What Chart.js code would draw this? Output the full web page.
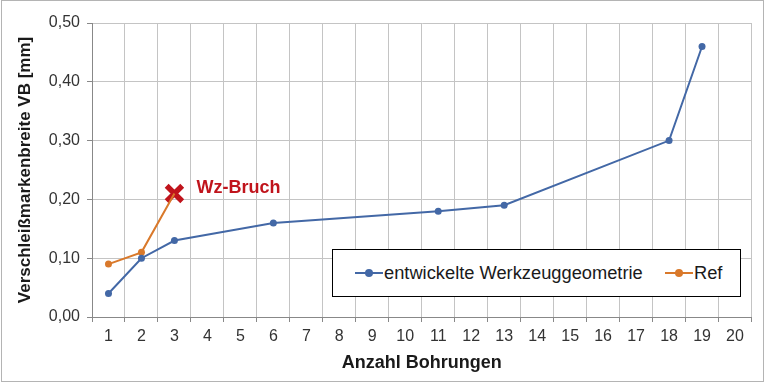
<!DOCTYPE html>
<html>
<head>
<meta charset="utf-8">
<script src="https://cdn.jsdelivr.net/npm/chart.js@4"></script>
<style>
  html, body { margin: 0; padding: 0; background: #fff; }
  #wrap { position: relative; width: 768px; height: 383px; }
  #frame { position: absolute; left: 1px; top: 0px; width: 761px; height: 380px; border: 1px solid #b4b4b4; pointer-events: none; }
  #legend { position: absolute; left: 332px; top: 249px; width: 407px; height: 46px; border: 1px solid #000; background: #fff;
            font-family: "Liberation Sans", Arial, sans-serif; font-size: 18.3px; color: #1a1a1a; }
  .item { display: flex; align-items: center; position: absolute; top: 0; height: 46px; }
  .sample { position: relative; width: 28px; height: 2px; margin-right: 1px; }
  .sample i { position: absolute; left: 10px; top: -3px; width: 8px; height: 8px; border-radius: 50%; }
</style>
</head>
<body>
<div id="wrap">
  <canvas id="c" width="768" height="383"></canvas>
  <div id="legend">
    <div class="item" style="left:22px"><span class="sample" style="background:#4368a6"><i style="background:#4368a6"></i></span><span>entwickelte Werkzeuggeometrie</span></div>
    <div class="item" style="left:332px"><span class="sample" style="background:#d9792b"><i style="background:#d9792b"></i></span><span>Ref</span></div>
  </div>
  <div id="frame"></div>
</div>
<script>
const categories = ['1','2','3','4','5','6','7','8','9','10','11','12','13','14','15','16','17','18','19','20'];
const seriesNames = ['entwickelte Werkzeuggeometrie', 'Ref'];
const devX = [1, 2, 3, 6, 11, 13, 18, 19];
const devY = [0.04, 0.10, 0.13, 0.16, 0.18, 0.19, 0.30, 0.46];
const refX = [1, 2, 3];
const refY = [0.09, 0.11, 0.21];
const breakX = [3];
const breakY = [0.21];
const breakLabel = 'Wz-Bruch';
const yTicks = [0, 0.1, 0.2, 0.3, 0.4, 0.5];

function toSeries(xs, ys) {
  const arr = categories.map(() => null);
  xs.forEach((x, i) => { arr[categories.indexOf(String(x))] = ys[i]; });
  return arr;
}

const labelPlugin = {
  id: 'breakLabel',
  afterDatasetsDraw(chart) {
    const meta = chart.getDatasetMeta(2);
    const pt = meta.data.find((p, i) => chart.data.datasets[2].data[i] !== null);
    if (!pt) return;
    const ctx = chart.ctx;
    ctx.save();
    ctx.font = 'bold 18px "Liberation Sans", Arial, sans-serif';
    ctx.fillStyle = '#c0141c';
    ctx.textAlign = 'left';
    ctx.textBaseline = 'middle';
    ctx.fillText(breakLabel, pt.x + 22, pt.y - 5);
    ctx.restore();
  }
};

new Chart(document.getElementById('c'), {
  type: 'line',
  data: {
    labels: categories,
    datasets: [
      { label: seriesNames[0], data: toSeries(devX, devY), borderColor: '#4368a6', backgroundColor: '#4368a6',
        borderWidth: 2, pointRadius: 3.5, pointBorderWidth: 0, spanGaps: true, tension: 0 },
      { label: seriesNames[1], data: toSeries(refX, refY), borderColor: '#d9792b', backgroundColor: '#d9792b',
        borderWidth: 2, pointRadius: [3.5, 3.5, 0], pointBorderWidth: 0, spanGaps: true, tension: 0 },
      { label: breakLabel, data: toSeries(breakX, breakY), showLine: false, pointStyle: 'crossRot',
        pointRadius: 11, borderWidth: 5.5, borderColor: '#c0141c', backgroundColor: '#c0141c' }
    ]
  },
  options: {
    responsive: false,
    animation: false,
    events: [],
    layout: { padding: { left: 0, right: 10, top: 23, bottom: 0 } },
    plugins: { legend: { display: false }, tooltip: { enabled: false } },
    scales: {
      x: {
        offset: true,
        grid: { offset: true, color: '#c4c4c4', lineWidth: 1, tickLength: 5, tickColor: '#888' },
        border: { color: '#888', width: 1 },
        ticks: { color: '#333', font: { family: '"Liberation Sans", Arial, sans-serif', size: 16 }, padding: 5, maxRotation: 0, autoSkip: false },
        title: { display: true, text: 'Anzahl Bohrungen', color: '#1a1a1a',
                 font: { family: '"Liberation Sans", Arial, sans-serif', size: 18, weight: 'bold' }, padding: { top: 0, bottom: 9 } },
        afterFit(s) { s.height = 66; }
      },
      y: {
        min: 0, max: 0.5,
        afterBuildTicks(s) { s.ticks = yTicks.map(v => ({ value: v })); },
        grid: { color: '#c4c4c4', lineWidth: 1, tickLength: 5, tickColor: '#888' },
        border: { color: '#888', width: 1 },
        ticks: { color: '#333', font: { family: '"Liberation Sans", Arial, sans-serif', size: 16 }, padding: 7,
                 callback: v => Number(v).toFixed(2).replace('.', ',') },
        title: { display: true, text: 'Verschleißmarkenbreite VB [mm]', color: '#1a1a1a',
                 font: { family: '"Liberation Sans", Arial, sans-serif', size: 17, weight: 'bold' }, padding: { top: 15, bottom: 0 } },
        afterFit(s) { s.width = 92; }
      }
    }
  },
  plugins: [labelPlugin]
});
</script>
</body>
</html>
